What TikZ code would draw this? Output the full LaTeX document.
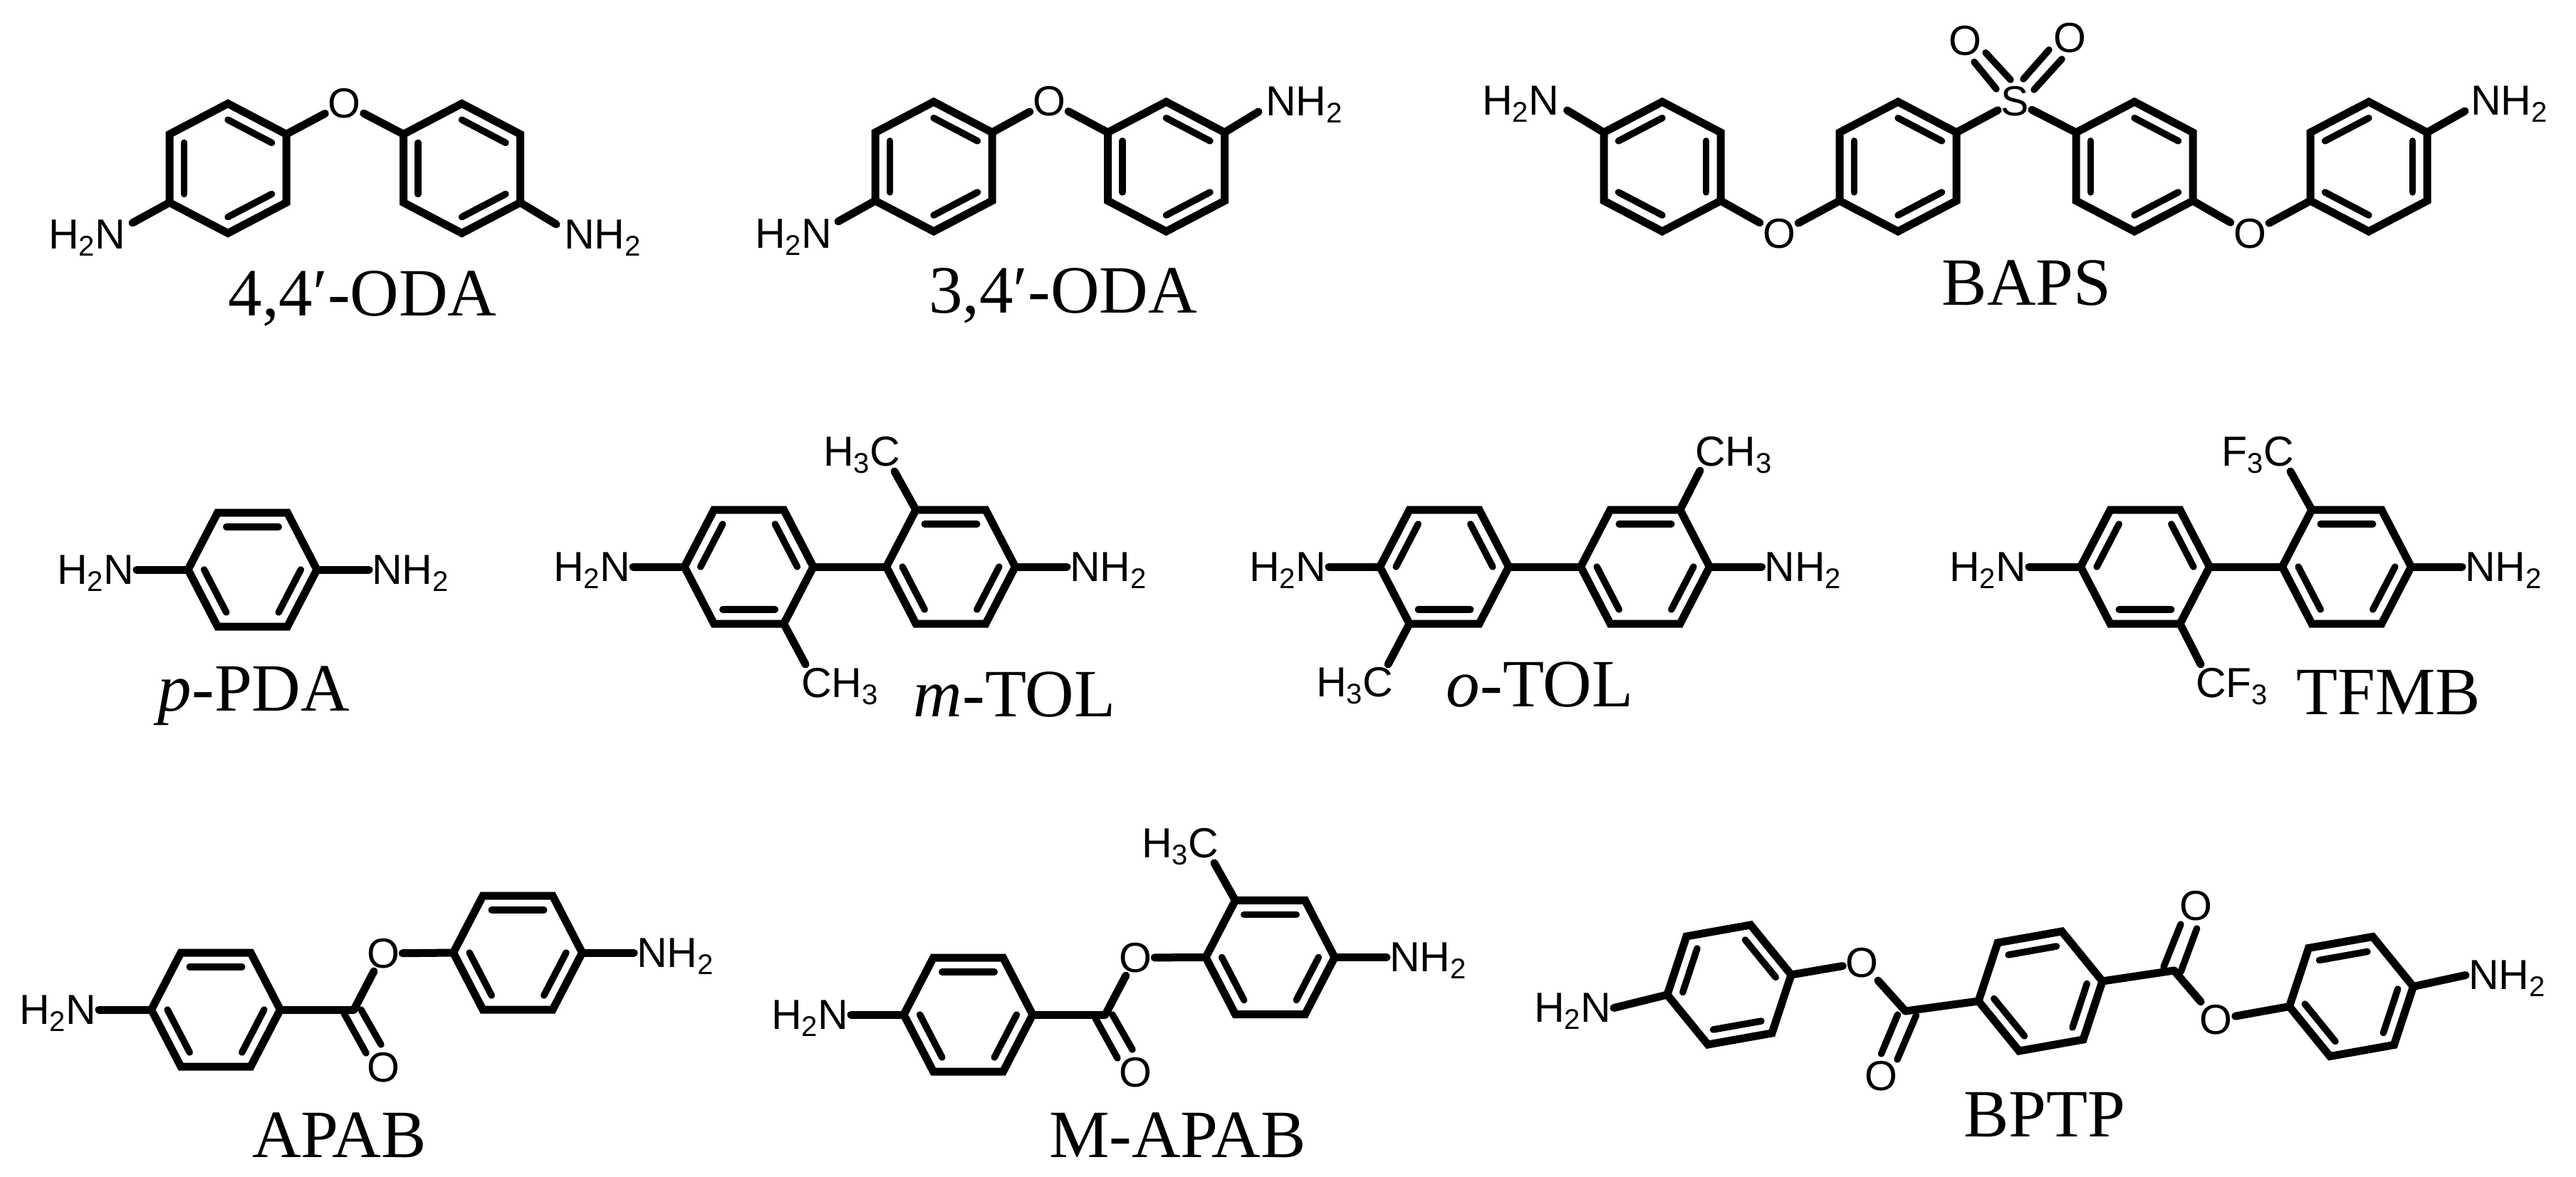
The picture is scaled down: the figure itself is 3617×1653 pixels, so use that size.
\documentclass[tikz,border=0pt]{standalone}
\usepackage{fontspec}
\usetikzlibrary{calc}
\newfontfamily\atomf{Liberation Sans}
\newfontfamily\captf{Liberation Serif}
\newcommand{\sbx}[1]{\raisebox{-10pt}[0pt][0pt]{\fontsize{40}{40}\selectfont #1}}
\tikzset{
  bondl/.style={line width=11pt,line cap=round},
  dbl/.style={line width=9.5pt,line cap=round},
  ringl/.style={line width=11pt,line join=miter},
  atom/.style={font=\atomf\fontsize{59}{61}\selectfont,inner sep=4pt},
  capt/.style={font=\captf\fontsize{95}{100}\selectfont,inner sep=0pt,anchor=base},
}
% name, centre, three half-diagonals, list of inner double bonds
\newcommand{\hexring}[6]{%
  \coordinate (#1-c) at (#2);
  \coordinate (#1-1) at ($(#2)+(#3)$);
  \coordinate (#1-2) at ($(#2)+(#4)$);
  \coordinate (#1-3) at ($(#2)+(#5)$);
  \coordinate (#1-4) at ($(#2)-(#3)$);
  \coordinate (#1-5) at ($(#2)-(#4)$);
  \coordinate (#1-6) at ($(#2)-(#5)$);
  \draw[ringl] (#1-1)--(#1-2)--(#1-3)--(#1-4)--(#1-5)--(#1-6)--cycle;
  \foreach \p/\q in {#6}{\draw[dbl] ($(#1-c)!0.75!(#1-\p)$)--($(#1-c)!0.75!(#1-\q)$);}
}
\newcommand{\ringV}[3]{\hexring{#1}{#2}{0,-91}{82,-48}{82,48}{#3}}
\newcommand{\ringH}[3]{\hexring{#1}{#2}{49,-80}{90.5,0}{49,80}{#3}}
\newcommand{\ringS}[3]{\hexring{#1}{#2}{30,-84}{87,-14}{60,68}{#3}}
\begin{document}
\begin{tikzpicture}[x=1pt,y=-1pt]
\useasboundingbox (0,0) rectangle (3617,1653);
\fill[white] (0,0) rectangle (3617,1653);

% ---------- 4,4'-ODA
\ringV{a}{320,236.5}{1/2,3/4,5/6}
\ringV{b}{648.5,236.5}{1/2,3/4,5/6}
\node[atom] (aO) at (483.5,145) {O};
\node[atom,anchor=east] (aN) at (180,329) {H\sbx{2}N};
\node[atom,anchor=west] (bN) at (788,329) {NH\sbx{2}};
\draw[bondl] (a-2)--(aO);
\draw[bondl] (aO)--(b-6);
\draw[bondl] (a-5)--($(aN.east)+(6,-16)$);
\draw[bondl] (b-3)--($(bN.west)+(-7,-14)$);
\node[capt] (capa) at (509,443) {4,4′-ODA};

% ---------- 3,4'-ODA
\ringV{c}{1311,234}{1/2,3/4,5/6}
\ringV{d}{1637.5,234}{1/2,3/4,5/6}
\node[atom] (cO) at (1473,142) {O};
\node[atom,anchor=east] (cN) at (1172,328) {H\sbx{2}N};
\node[atom,anchor=west] (dN) at (1773,142) {NH\sbx{2}};
\draw[bondl] (c-2)--(cO);
\draw[bondl] (cO)--(d-6);
\draw[bondl] (c-5)--($(cN.east)+(5,-17)$);
\draw[bondl] (d-2)--($(dN.west)+(-6,15)$);
\node[capt] (capb) at (1492.5,439) {3,4′-ODA};

% ---------- BAPS
\ringV{e}{2334,234}{6/1,4/5,2/3}
\ringV{f}{2665,234}{1/2,3/4,5/6}
\ringV{g}{2997,234}{1/2,3/4,5/6}
\ringV{h}{3326,234}{6/1,4/5,2/3}
\node[atom,anchor=east] (eN) at (2193,141.5) {H\sbx{2}N};
\node[atom,anchor=west] (hN) at (3465,141.5) {NH\sbx{2}};
\node[atom] (eO) at (2498,328) {O};
\node[atom] (gO) at (3159,328) {O};
\node[atom] (S) at (2829,142) {S};
\node[atom] (sO1) at (2759,57) {O};
\node[atom] (sO2) at (2906,53) {O};
\draw[bondl] (e-6)--($(eN.east)+(7.5,13.5)$);
\draw[bondl] (h-2)--($(hN.west)+(-4,14.5)$);
\draw[bondl] (e-3)--(eO);
\draw[bondl] (eO)--(f-5);
\draw[bondl] (g-3)--(gO);
\draw[bondl] (gO)--(h-5);
\draw[bondl] (f-2)--(S);
\draw[bondl] (S)--(g-6);
\draw[dbl] ($(S)+(-41,-68)$)--($(S)+(-6,-30)$);
\draw[dbl] ($(S)+(-57,-55)$)--($(S)+(-26,-17)$);
\draw[dbl] ($(S)+(48,-72)$)--($(S)+(12,-31)$);
\draw[dbl] ($(S)+(66,-59)$)--($(S)+(27,-16)$);
\node[capt] (capc) at (2845.5,428) {BAPS};

% ---------- p-PDA
\ringH{i}{354.5,800}{6/1,2/3,4/5}
\node[atom,anchor=east] (iN1) at (192,800) {H\sbx{2}N};
\node[atom,anchor=west] (iN2) at (518,800) {NH\sbx{2}};
\draw[bondl] (i-5)--(iN1.east);
\draw[bondl] (i-2)--(iN2.west);
\node[capt] (capd) at (356.5,998) {{\itshape p}-PDA};

% ---------- m-TOL
\ringH{j}{1051.5,796}{5/6,1/2,3/4}
\ringH{k}{1335,796}{6/1,4/5,2/3}
\node[atom,anchor=east] (jN) at (889,796) {H\sbx{2}N};
\node[atom,anchor=west] (kN) at (1498,796) {NH\sbx{2}};
\node[atom,anchor=east] (kM) at (1268,634) {H\sbx{3}C};
\node[atom,anchor=west] (jM) at (1121,959) {CH\sbx{3}};
\draw[bondl] (j-2)--(k-5);
\draw[bondl] (j-5)--(jN.east);
\draw[bondl] (k-2)--(kN.west);
\draw[bondl] (k-6)--($(kM.east)+(-12,28)$);
\draw[bondl] (j-3)--($(jM.west)+(10,-26)$);
\node[capt] (cape) at (1424.5,1006) {{\itshape m}-TOL};

% ---------- o-TOL
\ringH{l}{2028,796}{5/6,1/2,3/4}
\ringH{m}{2310,796}{6/1,4/5,2/3}
\node[atom,anchor=east] (lN) at (1866,796) {H\sbx{2}N};
\node[atom,anchor=west] (mN) at (2473.5,796) {NH\sbx{2}};
\node[atom,anchor=east] (lM) at (1960,958) {H\sbx{3}C};
\node[atom,anchor=west] (mM) at (2376,634) {CH\sbx{3}};
\draw[bondl] (l-2)--(m-5);
\draw[bondl] (l-5)--(lN.east);
\draw[bondl] (m-2)--(mN.west);
\draw[bondl] (l-4)--($(lM.east)+(-11,-25)$);
\draw[bondl] (m-1)--($(mM.west)+(11,27)$);
\node[capt] (capf) at (2162,992) {{\itshape o}-TOL};

% ---------- TFMB
\ringH{n}{3012,796}{5/6,1/2,3/4}
\ringH{o}{3295,796}{6/1,4/5,2/3}
\node[atom,anchor=east] (nN) at (2849,796) {H\sbx{2}N};
\node[atom,anchor=west] (oN) at (3457,796) {NH\sbx{2}};
\node[atom,anchor=east] (oM) at (3225,634) {F\sbx{3}C};
\node[atom,anchor=west] (nM) at (3079,959) {CF\sbx{3}};
\draw[bondl] (n-2)--(o-5);
\draw[bondl] (n-5)--(nN.east);
\draw[bondl] (o-2)--(oN.west);
\draw[bondl] (o-6)--($(oM.east)+(-9,28)$);
\draw[bondl] (n-3)--($(nM.west)+(11,-26)$);
\node[capt] (capg) at (3353.5,1003) {TFMB};

% ---------- APAB
\ringH{p}{303,1418}{6/1,4/5,2/3}
\ringH{q}{727,1338}{6/1,4/5,2/3}
\coordinate (pC) at (497,1418);
\node[atom,anchor=east] (pN) at (139,1418) {H\sbx{2}N};
\node[atom,anchor=west] (qN) at (890,1338) {NH\sbx{2}};
\node[atom] (pO1) at (538,1339) {O};
\node[atom] (pO2) at (538,1499) {O};
\draw[bondl] (p-5)--(pN.east);
\draw[bondl] (q-2)--(qN.west);
\draw[bondl] (p-2)--(pC);
\draw[bondl] (pC)--(pO1);
\draw[bondl] (pO1)--(q-5);
\draw[dbl] ($(pC)+(-14,5)$)--($(pC)+(17,61)$);
\draw[dbl] ($(pC)+(10,0)$)--($(pC)+(38,49)$);
\node[capt] (caph) at (476.5,1625) {APAB};

% ---------- M-APAB
\ringH{r}{1359.5,1425}{6/1,4/5,2/3}
\ringH{s}{1783.5,1344.5}{6/1,4/5,2/3}
\coordinate (rC) at (1552,1425);
\node[atom,anchor=east] (rN) at (1195,1425) {H\sbx{2}N};
\node[atom,anchor=west] (sN) at (1947,1344.5) {NH\sbx{2}};
\node[atom,anchor=east] (sM) at (1715,1184) {H\sbx{3}C};
\node[atom] (rO1) at (1594,1345) {O};
\node[atom] (rO2) at (1594,1506) {O};
\draw[bondl] (r-5)--(rN.east);
\draw[bondl] (s-2)--(sN.west);
\draw[bondl] (s-6)--($(sM.east)+(-10,28)$);
\draw[bondl] (r-2)--(rC);
\draw[bondl] (rC)--(rO1);
\draw[bondl] (rO1)--(s-5);
\draw[dbl] ($(rC)+(-14,5)$)--($(rC)+(17,61)$);
\draw[dbl] ($(rC)+(10,0)$)--($(rC)+(38,49)$);
\node[capt] (capi) at (1653.5,1625) {M-APAB};

% ---------- BPTP
\ringS{t}{2428,1383}{1/2,3/4,5/6}
\ringS{u}{2865,1392}{6/1,2/3,4/5}
\ringS{v}{3301.5,1399.5}{6/1,2/3,4/5}
\coordinate (tC) at (2675.5,1420);
\coordinate (uC) at (3052.6,1363);
\node[atom,anchor=east] (tN) at (2266,1415.5) {H\sbx{2}N};
\node[atom,anchor=west] (vN) at (3462,1369.5) {NH\sbx{2}};
\node[atom] (tO1) at (2614.5,1352) {O};
\node[atom] (tO2) at (2641.5,1511) {O};
\node[atom] (uO1) at (3111.6,1432) {O};
\node[atom] (uO2) at (3083.5,1272) {O};
\draw[bondl] (t-5)--(tN.east);
\draw[bondl] (v-2)--(vN.west);
\draw[bondl] (t-2)--(tO1);
\draw[bondl] (tO1)--(tC);
\draw[bondl] (tC)--(u-5);
\draw[bondl] (u-2)--(uC);
\draw[bondl] (uC)--(uO1);
\draw[bondl] (uO1)--(v-5);
\draw[dbl] ($(tC)+(-11,5)$)--($(tC)+(-34,60)$);
\draw[dbl] ($(tC)+(15,6)$)--($(tC)+(-11.5,68)$);
\draw[dbl] ($(uC)+(-14.6,-5)$)--($(uC)+(9.4,-65)$);
\draw[dbl] ($(uC)+(9.4,2)$)--($(uC)+(32,-59)$);
\node[capt] (capj) at (2871,1596) {BPTP};
\end{tikzpicture}
\end{document}
